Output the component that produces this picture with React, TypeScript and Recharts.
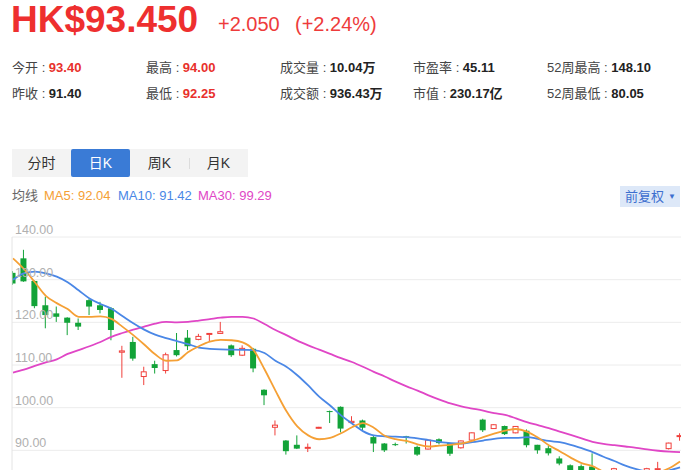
import React from 'react';
import { ComposedChart, Bar, Line, XAxis, YAxis, CartesianGrid } from 'recharts';

// ---------- data ----------
const days = [
  1, 2, 3, 4, 5, 6, 7, 8, 9, 10, 11, 12, 13, 14, 15, 16, 17, 18, 19, 20,
  21, 22, 23, 24, 25, 26, 27, 28, 29, 30, 31, 32, 33, 34, 35, 36, 37, 38, 39, 40,
  41, 42, 43, 44, 45, 46, 47, 48, 49, 50, 51, 52, 53, 54, 55, 56, 57, 58, 59, 60,
  61, 62,
];
const openP = [
  131.6, 135.0, 129.7, 124.0, 122.1, 121.1, 119.9, 125.2, 124.0, 123.3,
  113.0, 115.4, 107.3, 110.2, 108.7, 113.5, 116.4, 116.0, 117.2, 117.4,
  114.6, 112.3, 113.8, 104.2, 95.4, 92.3, 91.3, 90.5, 95.2, 99.2,
  100.2, 96.5, 97.0, 93.1, 91.6, 91.45, 93.3, 90.8, 90.3, 92.6,
  91.7, 90.6, 92.4, 97.2, 95.1, 95.7, 94.1, 94.6, 91.3, 90.5,
  88.1, 86.5, 86.3, 86.2, 85.0, 84.3, 85.0, 84.0, 83.8, 85.5,
  90.4, 93.4,
];
const closeP = [
  129.1, 129.6, 123.8, 121.7, 121.3, 119.9, 119.0, 123.7, 122.9, 118.2,
  113.3, 111.5, 108.4, 109.3, 112.4, 112.3, 114.4, 116.7, 117.4, 117.8,
  112.3, 113.9, 109.2, 102.9, 95.9, 89.8, 90.4, 90.7, 95.4, 99.0,
  95.1, 96.8, 95.3, 91.6, 90.0, 91.35, 93.1, 89.0, 92.4, 91.7,
  89.2, 92.2, 94.1, 94.7, 96.0, 93.8, 95.6, 91.2, 90.0, 89.3,
  86.9, 85.2, 85.3, 85.2, 84.2, 85.7, 83.5, 83.2, 85.7, 85.7,
  91.7, 93.45,
];
const highP = [
  132.0, 137.0, 129.8, 126.0, 123.7, 121.2, 120.9, 125.5, 124.8, 123.6,
  114.5, 116.6, 109.6, 111.0, 112.9, 117.5, 118.2, 117.3, 117.5, 120.1,
  114.8, 114.6, 114.0, 104.3, 97.0, 92.4, 93.5, 91.6, 95.5, 99.3,
  100.3, 98.0, 97.2, 93.5, 91.7, 91.8, 93.4, 91.1, 92.5, 92.8,
  91.8, 92.3, 94.2, 97.4, 96.1, 95.8, 95.7, 94.9, 91.3, 91.0,
  88.6, 86.7, 86.7, 89.3, 85.2, 85.9, 85.2, 84.3, 85.9, 87.3,
  91.8, 94.0,
];
const lowP = [
  128.8, 129.5, 123.3, 118.6, 120.1, 117.0, 118.2, 121.7, 122.1, 115.8,
  107.0, 111.0, 105.3, 108.0, 108.0, 112.0, 113.5, 115.8, 115.4, 117.3,
  111.9, 112.1, 108.3, 100.6, 93.5, 89.0, 90.3, 89.6, 95.1, 96.4,
  94.2, 96.4, 94.6, 89.6, 89.6, 91.0, 91.6, 88.7, 90.2, 91.4,
  88.7, 90.4, 92.2, 94.3, 95.0, 93.6, 94.0, 90.7, 89.2, 88.8,
  86.5, 84.8, 84.8, 84.8, 83.8, 84.0, 83.0, 82.8, 83.5, 84.8,
  90.2, 92.25,
];
const ma5 = [
  135.0, 132.5, 129.4, 126.2, 124.5, 123.1, 121.3, 121.3, 121.4, 120.8,
  119.0, 117.0, 114.8, 112.5, 111.0, 111.1, 113.0, 114.4, 115.5, 115.9,
  115.8, 115.3, 113.5, 109.0, 104.0, 99.2, 95.6, 93.5, 92.6, 92.9,
  94.0, 95.4, 96.4, 95.3, 93.4, 92.6, 92.2, 91.4, 90.9, 91.1,
  91.3, 91.6, 92.2, 93.1, 93.9, 94.6, 95.0, 94.4, 93.0, 91.2,
  89.8, 88.3, 87.0, 86.3, 85.0, 84.5, 84.2, 84.1, 84.3, 84.8,
  85.8, 87.4,
];
const ma10 = [
  130.0, 131.5, 131.9, 131.5, 130.7, 129.4, 127.5, 125.6, 124.3, 123.2,
  121.5, 119.8, 118.3, 117.1, 116.3, 115.6, 114.9, 114.1, 113.8, 113.65,
  113.6, 113.55, 113.5, 112.8, 111.0, 109.6, 107.6, 105.2, 102.6, 100.5,
  98.2, 96.3, 94.5, 93.5, 93.3, 93.2, 93.1, 92.8, 92.4, 92.0,
  91.7, 91.6, 91.9, 92.3, 92.7, 92.9, 92.9, 93.1, 92.7, 92.2,
  91.9, 91.3, 90.5, 89.6, 88.5, 87.5, 86.4, 85.6, 85.0, 84.8,
  85.3, 86.0,
];
const ma30 = [
  108.2, 108.9, 109.8, 110.6, 111.3, 112.6, 113.5, 114.4, 115.4, 116.6,
  117.5, 118.3, 119.0, 119.7, 120.1, 120.0, 120.1, 120.4, 120.75, 121.1,
  121.3, 121.3, 120.9, 119.6, 118.2, 117.0, 115.7, 114.6, 113.6, 112.6,
  111.6, 110.7, 109.6, 108.4, 107.3, 106.1, 105.0, 104.0, 102.9, 101.9,
  101.0, 100.3, 99.8, 99.3, 98.7, 98.3, 97.5, 96.6, 95.9, 95.2,
  94.4, 93.6, 92.8, 92.0, 91.5, 91.2, 90.9, 90.6, 90.2, 89.9,
  89.7, 89.6,
];
const yTicks = [90, 100, 110, 120, 130, 140];

const infoLabels = [
  ['今开', '最高', '成交量', '市盈率', '52周最高'],
  ['昨收', '最低', '成交额', '市值', '52周最低'],
];
const infoValues = [
  ['93.40', '94.00', '10.04万', '45.11', '148.10'],
  ['91.40', '92.25', '936.43万', '230.17亿', '80.05'],
];
const infoRed = [
  [true, true, false, false, false],
  [false, true, false, false, false],
];
const tabs = ['分时', '日K', '周K', '月K'];
const maLabels = ['MA5: 92.04', 'MA10: 91.42', 'MA30: 99.29'];

const rows = days.map((d, i) => ({
  day: d,
  open: openP[i],
  close: closeP[i],
  high: highP[i],
  low: lowP[i],
  ma5: ma5[i],
  ma10: ma10[i],
  ma30: ma30[i],
}));

// ---------- styles ----------
const RED = '#f0403c';
const GREEN = '#12a338';
const ORANGE = '#f5a035';
const BLUE = '#4a87e6';
const MAGENTA = '#e046c6';
const FONT = '"Liberation Sans", Arial, "Noto Sans CJK SC", sans-serif';

const Candle = (props: any) => {
  const { x, y, width, height, payload } = props;
  if (!payload || width == null) return null;
  const { open, close, high, low } = payload;
  const top = height < 0 ? y + height : y;
  const h = Math.abs(height);
  const span = high - low;
  const k = span > 0 ? h / span : 0;
  const yOf = (v: number) => top + (high - v) * k;
  const up = close >= open;
  const color = up ? RED : GREEN;
  const cx = x + width / 2;
  const bTop = yOf(Math.max(open, close));
  const bBot = yOf(Math.min(open, close));
  const bh = Math.max(bBot - bTop, 1);
  return (
    <g>
      <line x1={cx} x2={cx} y1={top} y2={top + h} stroke={color} strokeWidth={1} />
      {up ? (
        <rect x={x + 0.5} y={bTop} width={width - 1} height={bh} fill="#fff" stroke={color} strokeWidth={1} />
      ) : (
        <rect x={x} y={bTop} width={width} height={bh} fill={color} />
      )}
    </g>
  );
};

const PriceTick = (props: any) => {
  const { y, payload } = props;
  return (
    <text x={15} y={y - 3} fill="#b0b0b0" fontSize={12.5} fontFamily={FONT} textAnchor="start">
      {Number(payload.value).toFixed(2)}
    </text>
  );
};

const colX = [12, 146, 280, 413, 547];
const rowTop = [61, 87];

export default function App() {
  return (
    <div
      style={{
        position: 'fixed',
        left: 0,
        top: 0,
        width: 700,
        height: 470,
        overflow: 'hidden',
        background: '#fff',
        fontFamily: FONT,
      }}
    >
      {/* price header */}
      <div style={{ position: 'absolute', left: 11, top: 1, lineHeight: '37px', fontSize: 37, fontWeight: 'bold', color: '#ee2f2f', whiteSpace: 'nowrap' }}>
        HK$93.450
      </div>
      <div style={{ position: 'absolute', left: 218, top: 14, lineHeight: '20px', fontSize: 20, color: '#ee3b3b', whiteSpace: 'nowrap' }}>
        +2.050
      </div>
      <div style={{ position: 'absolute', left: 295, top: 14, lineHeight: '20px', fontSize: 20, color: '#ee3b3b', whiteSpace: 'nowrap' }}>
        (+2.24%)
      </div>

      {infoLabels.map((row, r) =>
        row.map((lab, c) => (
          <div
            key={`${r}-${c}`}
            style={{ position: 'absolute', left: colX[c], top: rowTop[r], fontSize: 13, lineHeight: '13px', whiteSpace: 'nowrap', color: '#444' }}
          >
            {lab} : <span style={{ fontWeight: 'bold', color: infoRed[r][c] ? '#e8302c' : '#222' }}>{infoValues[r][c]}</span>
          </div>
        ))
      )}

      {/* tabs */}
      <div style={{ position: 'absolute', left: 12, top: 149, width: 236, height: 28, background: '#f3f3f3' }}>
        {tabs.map((t, i) => (
          <div
            key={t}
            style={{
              position: 'absolute',
              left: i * 59,
              top: 0,
              width: 59,
              height: 28,
              lineHeight: '28px',
              textAlign: 'center',
              fontSize: 14,
              color: i === 1 ? '#fff' : '#333',
              background: i === 1 ? '#3a7bd6' : 'transparent',
              borderRadius: i === 1 ? 2 : 0,
            }}
          >
            {t}
          </div>
        ))}
        <div style={{ position: 'absolute', left: 177, top: 9, width: 1, height: 11, background: '#dcdcdc' }} />
      </div>

      {/* MA legend */}
      <div style={{ position: 'absolute', left: 12, top: 189, fontSize: 13, lineHeight: '13px', color: '#666', whiteSpace: 'nowrap' }}>均线</div>
      <div style={{ position: 'absolute', left: 44, top: 189, fontSize: 13, lineHeight: '13px', color: ORANGE, whiteSpace: 'nowrap' }}>{maLabels[0]}</div>
      <div style={{ position: 'absolute', left: 118, top: 189, fontSize: 13, lineHeight: '13px', color: BLUE, whiteSpace: 'nowrap' }}>{maLabels[1]}</div>
      <div style={{ position: 'absolute', left: 198, top: 189, fontSize: 13, lineHeight: '13px', color: MAGENTA, whiteSpace: 'nowrap' }}>{maLabels[2]}</div>

      {/* adjust button */}
      <div
        style={{
          position: 'absolute',
          left: 620,
          top: 186,
          width: 60,
          height: 21,
          background: '#dde8f8',
          color: '#3d6fcf',
          fontSize: 13,
          lineHeight: '21px',
          whiteSpace: 'nowrap',
        }}
      >
        <span style={{ marginLeft: 5 }}>前复权</span>
        <span style={{ fontSize: 8, marginLeft: 4, verticalAlign: 'top' }}>▼</span>
      </div>

      {/* chart */}
      <div style={{ position: 'absolute', left: 0, top: 217 }}>
        <ComposedChart width={700} height={276} data={rows} margin={{ top: 20, right: 19, bottom: 0, left: 12 }}>
          <CartesianGrid vertical={false} stroke="#ececec" />
          <XAxis dataKey="day" type="number" domain={[0.91, 62.09]} allowDataOverflow hide />
          <YAxis
            type="number"
            domain={[80, 140]}
            ticks={yTicks}
            allowDataOverflow
            mirror
            axisLine={{ stroke: '#e4e4e4' }}
            tickLine={false}
            tick={<PriceTick />}
          />
          <Bar
            dataKey={(d: any) => [d.low, d.high]}
            barSize={6}
            shape={<Candle />}
            isAnimationActive={false}
          />
          <Line type="monotone" dataKey="ma30" stroke={MAGENTA} strokeWidth={1.8} dot={false} isAnimationActive={false} />
          <Line type="monotone" dataKey="ma10" stroke={BLUE} strokeWidth={1.8} dot={false} isAnimationActive={false} />
          <Line type="monotone" dataKey="ma5" stroke={ORANGE} strokeWidth={1.8} dot={false} isAnimationActive={false} />
        </ComposedChart>
      </div>
    </div>
  );
}
